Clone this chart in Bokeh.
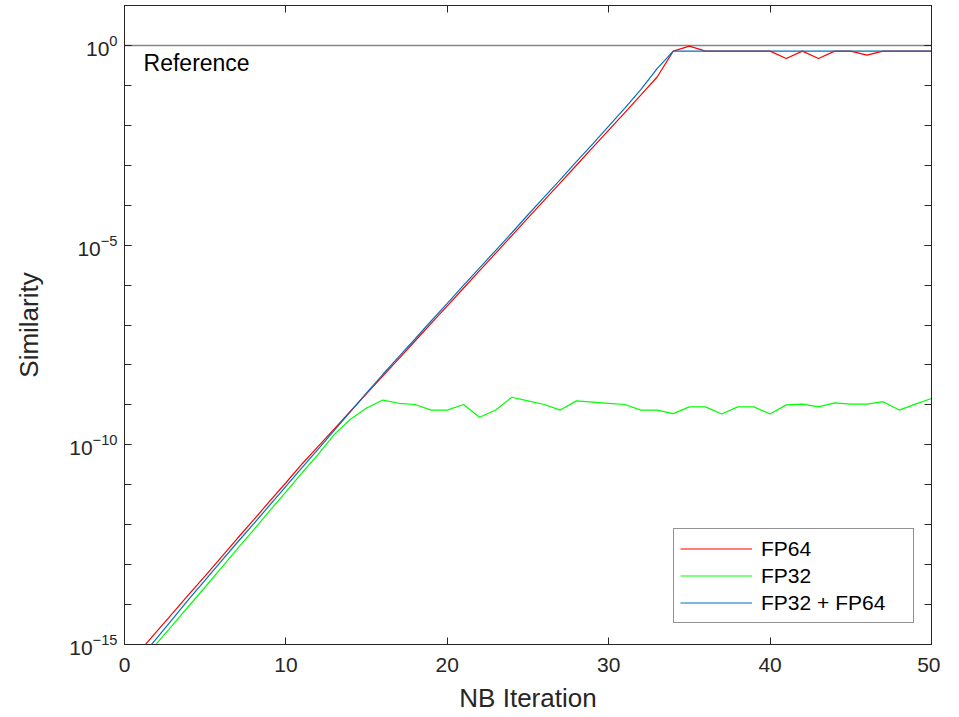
import numpy as np
from bokeh.plotting import figure
from bokeh.models import (LinearAxis, LogAxis, FixedTicker, Legend, LegendItem,
                          ColumnDataSource, Range1d, Label)
from bokeh.embed import file_html
from bokeh.resources import INLINE

# ---------------- data (log10 of similarity) ----------------
iterations = list(range(1, 51))

fp64_log10 = [-15.14, -14.67, -14.21, -13.74, -13.28, -12.81, -12.34, -11.88, -11.41, -10.95,
              -10.48, -10.04, -9.60, -9.16, -8.72, -8.28, -7.84, -7.40, -6.96, -6.52,
              -6.08, -5.64, -5.20, -4.76, -4.32, -3.88, -3.44, -3.00, -2.56, -2.12,
              -1.68, -1.24, -0.79, -0.143, -0.017, -0.143, -0.143, -0.143, -0.143, -0.143,
              -0.326, -0.143, -0.326, -0.143, -0.143, -0.243, -0.143, -0.143, -0.143, -0.143]

fp32_log10 = [-15.45, -14.97, -14.50, -14.03, -13.56, -13.08, -12.60, -12.13, -11.65, -11.18,
              -10.70, -10.24, -9.74, -9.36, -9.08, -8.88, -8.96, -8.99, -9.13, -9.13,
              -8.99, -9.31, -9.13, -8.81, -8.90, -8.99, -9.13, -8.90, -8.93, -8.96,
              -8.99, -9.13, -9.13, -9.22, -9.05, -9.05, -9.23, -9.05, -9.05, -9.23,
              -9.00, -8.98, -9.05, -8.95, -8.98, -8.98, -8.92, -9.13, -8.98, -8.84]

mixed_log10 = [-15.33, -14.84, -14.35, -13.86, -13.39, -12.91, -12.44, -11.98, -11.51, -11.04,
               -10.57, -10.11, -9.64, -9.17, -8.70, -8.24, -7.79, -7.35, -6.90, -6.46,
               -6.01, -5.57, -5.13, -4.69, -4.24, -3.80, -3.36, -2.91, -2.47, -2.02,
               -1.57, -1.10, -0.58, -0.143, -0.143, -0.143, -0.143, -0.143, -0.143, -0.143,
               -0.143, -0.143, -0.143, -0.143, -0.143, -0.143, -0.143, -0.143, -0.143, -0.143]

reference_x = [0, 50]
reference_y = [1.0, 1.0]

series_names = ["FP64", "FP32", "FP32 + FP64"]
series_colors = ["#ff0000", "#00ff00", "#0072bd"]

x_ticks = [0, 10, 20, 30, 40, 50]
y_major_ticks = [1e-15, 1e-10, 1e-5, 1e0]
y_minor_ticks = [10.0 ** k for k in range(-15, 2)]

FONT = "Liberation Sans"
AX = "#262626"

# ---------------- figure ----------------
p = figure(width=940, height=717, output_backend="svg", toolbar_location=None,
           y_axis_type="log", x_range=Range1d(0, 50), y_range=Range1d(1e-15, 1e1),
           min_border_left=124, min_border_right=9, min_border_top=5, min_border_bottom=73)
p.grid.visible = False
p.outline_line_color = AX
p.outline_line_width = 1
p.background_fill_color = "white"
p.border_fill_color = "white"

src = ColumnDataSource(dict(x=iterations,
                            fp64=[10.0 ** v for v in fp64_log10],
                            fp32=[10.0 ** v for v in fp32_log10],
                            mixed=[10.0 ** v for v in mixed_log10]))

p.line(reference_x, reference_y, line_color="#858585", line_width=1.5)

r64 = p.line("x", "fp64", source=src, line_color=series_colors[0], line_width=1.2)
r32 = p.line("x", "fp32", source=src, line_color=series_colors[1], line_width=1.2)
rmx = p.line("x", "mixed", source=src, line_color=series_colors[2], line_width=1.2)

p.add_layout(Label(x=1.18, y=10 ** -0.45, text="Reference", text_font=FONT,
                   text_font_size="23px", text_color="black", text_baseline="middle"))

# ---------------- axes ----------------
def style(ax, labels=True):
    ax.axis_line_color = AX
    ax.major_tick_line_color = AX
    ax.minor_tick_line_color = AX
    ax.major_tick_in = 7
    ax.major_tick_out = 0
    ax.minor_tick_in = 7
    ax.minor_tick_out = 0
    ax.major_label_text_font = FONT
    ax.major_label_text_color = AX
    if labels:
        ax.major_label_text_font_size = "21px"
        ax.major_label_standoff = 13
    else:
        ax.major_label_text_font_size = "1px"
        ax.major_label_text_color = None
        ax.major_label_standoff = 0

xax = p.xaxis[0]
xax.ticker = FixedTicker(ticks=x_ticks)
style(xax)
xax.minor_tick_line_color = None
xax.axis_label = "NB Iteration"
xax.axis_label_text_font = FONT
xax.axis_label_text_font_size = "26px"
xax.axis_label_text_font_style = "normal"
xax.axis_label_text_color = AX
xax.axis_label_standoff = 8

yax = p.yaxis[0]
yax.ticker = FixedTicker(ticks=y_major_ticks, minor_ticks=y_minor_ticks)
style(yax)
yax.major_label_standoff = 7
yax.axis_label = "Similarity"
yax.axis_label_text_font = FONT
yax.axis_label_text_font_size = "26px"
yax.axis_label_text_font_style = "normal"
yax.axis_label_text_color = AX
yax.axis_label_standoff = 22

top = LinearAxis(ticker=FixedTicker(ticks=x_ticks))
style(top, labels=False)
top.minor_tick_line_color = None
p.add_layout(top, "above")

right = LogAxis(ticker=FixedTicker(ticks=y_major_ticks, minor_ticks=y_minor_ticks))
style(right, labels=False)
p.add_layout(right, "right")

# ---------------- legend ----------------
legend = Legend(items=[LegendItem(label=series_names[0], renderers=[r64]),
                       LegendItem(label=series_names[1], renderers=[r32]),
                       LegendItem(label=series_names[2], renderers=[rmx])],
                location=(549, 21))
legend.label_text_font = FONT
legend.label_text_font_size = "21px"
legend.label_text_color = "black"
legend.glyph_width = 72
legend.glyph_height = 27
legend.label_height = 27
legend.label_width = 146
legend.label_standoff = 9
legend.spacing = 0
legend.padding = 6
legend.margin = 0
legend.border_line_color = AX
legend.border_line_width = 1
legend.background_fill_alpha = 1
p.add_layout(legend, "center")

open("out.html", "w").write(file_html(p, INLINE))
